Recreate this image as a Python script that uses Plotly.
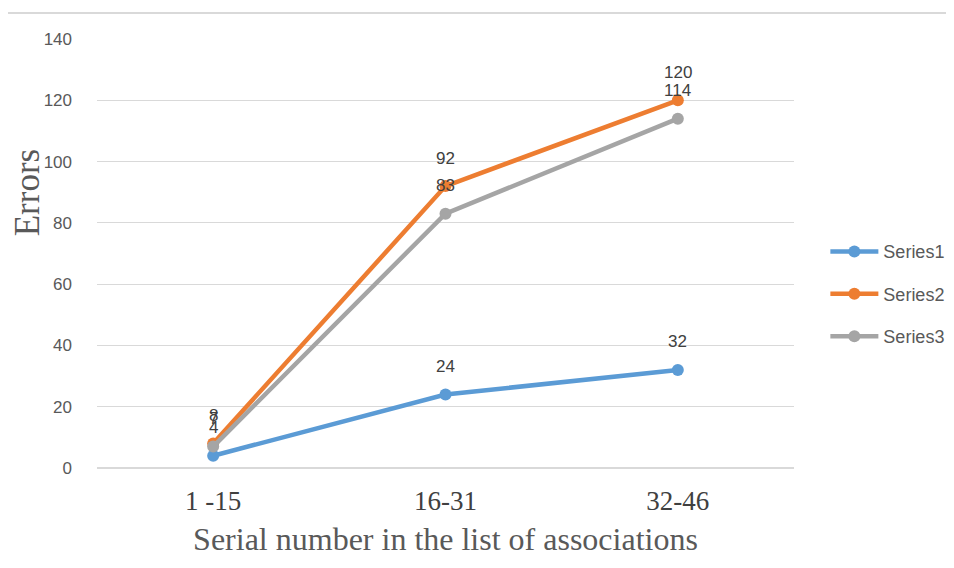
import plotly.graph_objects as go

categories = ["1 -15", "16-31", "32-46"]
series1 = [4, 24, 32]
series2 = [8, 92, 120]
series3 = [7, 83, 114]
series_names = ["Series1", "Series2", "Series3"]
colors = ["#5B9BD5", "#ED7D31", "#A5A5A5"]
y_ticks = [0, 20, 40, 60, 80, 100, 120, 140]

fig = go.Figure()
annotations = []
for name, vals, col in zip(series_names, [series1, series2, series3], colors):
    fig.add_trace(go.Scatter(
        x=categories, y=vals, name=name, mode="lines+markers",
        line=dict(color=col, width=4.5), marker=dict(color=col, size=12),
        legendgroup=name,
    ))
    for c, v in zip(categories, vals):
        annotations.append(dict(
            x=c, y=v, xref="x", yref="y", text=str(v), showarrow=False,
            yshift=28, font=dict(family="Liberation Sans, Arial", size=17, color="#404040"),
        ))

annotations.append(dict(
    text="Errors", xref="paper", yref="paper", x=(28 - 97) / 700, y=(468 - 193) / 429,
    textangle=-90, showarrow=False, xanchor="center", yanchor="middle",
    font=dict(family="Liberation Serif, Times New Roman", size=35, color="#595959"),
))

fig.update_layout(
    width=954, height=568,
    margin=dict(l=89, r=165, t=31, b=108),
    paper_bgcolor="white", plot_bgcolor="white",
    annotations=annotations,
    showlegend=True,
    legend=dict(x=1.045, y=0.405, xanchor="left", yanchor="middle",
                font=dict(family="Liberation Sans, Arial", size=18, color="#595959"),
                tracegroupgap=16, itemwidth=48),
    xaxis=dict(
        type="category", range=[-0.5, 2.5], showgrid=False, showline=False,
        zeroline=False, ticks="", ticklabelstandoff=14,
        tickfont=dict(family="Liberation Serif, Times New Roman", size=27, color="#404040"),
        title=dict(text="Serial number in the list of associations",
                   font=dict(family="Liberation Serif, Times New Roman", size=32, color="#595959"),
                   standoff=12),
    ),
    yaxis=dict(
        range=[0, 140], tickvals=y_ticks, showgrid=True, gridcolor="#D9D9D9",
        gridwidth=1, zeroline=True, zerolinecolor="#D9D9D9", showline=False,
        ticks="", ticklabelstandoff=24,
        tickfont=dict(family="Liberation Sans, Arial", size=17, color="#595959"),
    ),
    shapes=[dict(type="line", xref="paper", yref="paper",
                 x0=(5 - 97) / 700, x1=(954 - 97) / 700,
                 y0=(468 - 13) / 429, y1=(468 - 13) / 429,
                 line=dict(color="#D9D9D9", width=2))],
)

fig.write_html("out.html")
